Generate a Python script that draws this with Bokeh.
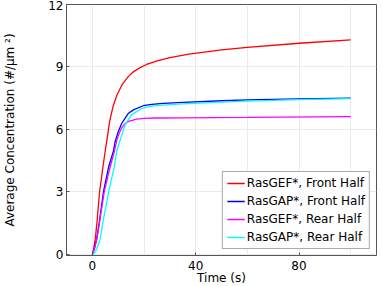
from bokeh.plotting import figure
from bokeh.models import FixedTicker, Legend, LegendItem, Range1d
from bokeh.embed import file_html
from bokeh.resources import INLINE

# ---- data ----
t_gef_front = [0, 0.5, 1.15, 1.8, 2.8, 4.1, 5.0, 5.6, 6.7, 8.0, 9.5, 11.5, 14, 16, 18.5, 21, 24.8, 30, 37.4, 50, 60, 80, 100]
v_gef_front = [0, 0.25, 0.76, 1.55, 3.0, 4.2, 4.98, 5.45, 6.39, 7.1, 7.64, 8.15, 8.55, 8.78, 8.97, 9.12, 9.28, 9.45, 9.62, 9.82, 9.94, 10.14, 10.3]

t_gap_front = [0, 0.8, 1.7, 2.7, 4.3, 6.3, 8.2, 8.8, 10.1, 11.4, 12.7, 14, 15.9, 19.7, 23, 27.4, 35, 50, 60, 80, 100]
v_gap_front = [0, 0.3, 0.76, 1.55, 3.0, 4.2, 4.98, 5.4, 5.92, 6.3, 6.55, 6.78, 6.94, 7.14, 7.21, 7.25, 7.30, 7.38, 7.42, 7.47, 7.51]

t_gef_rear = [0, 0.9, 1.8, 2.8, 4.6, 6.9, 8.6, 9.5, 10.4, 11.4, 12.5, 14, 17.2, 20, 24.8, 35, 60, 100]
v_gef_rear = [0, 0.3, 0.76, 1.55, 3.0, 4.2, 4.98, 5.5, 5.82, 6.08, 6.26, 6.39, 6.50, 6.53, 6.55, 6.56, 6.58, 6.62]

t_gap_rear = [0, 1.0, 1.8, 3.1, 4.1, 6.3, 8.5, 9.5, 10.8, 12.7, 15.2, 19.1, 23, 27.4, 35, 50, 60, 80, 100]
v_gap_rear = [0, 0.08, 0.3, 0.76, 1.55, 3.0, 4.2, 4.98, 5.5, 6.23, 6.70, 7.01, 7.12, 7.17, 7.23, 7.31, 7.36, 7.43, 7.48]

x_major_ticks = [0, 40, 80]
x_grid_ticks = [-20, 20, 60, 100]
y_major_ticks = [0, 3, 6, 9, 12]

series_labels = ["RasGEF*, Front Half", "RasGAP*, Front Half", "RasGEF*, Rear Half", "RasGAP*, Rear Half"]
series_colors = ["#ff0000", "#0000ff", "#ff00ff", "#00ffff"]

FONT = "DejaVu Sans"
FS = "12px"

p = figure(frame_width=310, frame_height=251, output_backend="svg", toolbar_location=None,
           x_range=Range1d(-10, 110), y_range=Range1d(-0.05, 12.0),
           min_border_left=60, min_border_right=2, min_border_top=4, min_border_bottom=0)
p.outline_line_color = "#555555"
p.background_fill_color = "white"
p.border_fill_color = "white"

xt = FixedTicker(ticks=x_major_ticks, minor_ticks=x_grid_ticks)
yt = FixedTicker(ticks=y_major_ticks, minor_ticks=[])

for ax in [p.xaxis[0], p.yaxis[0]]:
    ax.major_label_text_font = FONT
    ax.major_label_text_font_size = FS
    ax.major_label_text_color = "black"
    ax.axis_label_text_font = FONT
    ax.axis_label_text_font_size = FS
    ax.axis_label_text_font_style = "normal"
    ax.axis_label_text_color = "black"
    ax.axis_line_color = "#555555"
    ax.major_tick_line_color = "#555555"
    ax.major_tick_in = 3
    ax.major_tick_out = 0
    ax.minor_tick_line_color = None

p.xaxis[0].ticker = xt
p.yaxis[0].ticker = yt
p.xaxis[0].axis_label = "Time (s)"
p.xaxis[0].major_label_standoff = 1
p.xaxis[0].axis_label_standoff = -2
p.yaxis[0].axis_label = "Average Concentration (#/µm ²)"
p.yaxis[0].major_label_standoff = 3
p.yaxis[0].axis_label_standoff = 28

p.xgrid[0].ticker = xt
p.ygrid[0].ticker = yt
for g in [p.xgrid[0], p.ygrid[0]]:
    g.grid_line_color = "#ebebeb"
    g.grid_line_width = 1
p.xgrid[0].minor_grid_line_color = "#ebebeb"

ts = [t_gef_front, t_gap_front, t_gef_rear, t_gap_rear]
vs = [v_gef_front, v_gap_front, v_gef_rear, v_gap_rear]
items = []
for t, v, lab, col in zip(ts, vs, series_labels, series_colors):
    r = p.line(t, v, line_color=col, line_width=1.3)
    items.append(LegendItem(label=lab, renderers=[r]))

leg = Legend(items=items, location="bottom_right")
leg.label_text_font = FONT
leg.label_text_font_size = FS
leg.label_text_color = "black"
leg.label_height = 14
leg.glyph_height = 14
leg.glyph_width = 18
leg.label_standoff = 2
leg.spacing = 4
leg.padding = 4
leg.margin = 6
leg.border_line_color = "#555555"
leg.border_line_width = 1.5
leg.background_fill_alpha = 1.0
p.add_layout(leg, "center")

open("out.html", "w").write(file_html(p, INLINE))
